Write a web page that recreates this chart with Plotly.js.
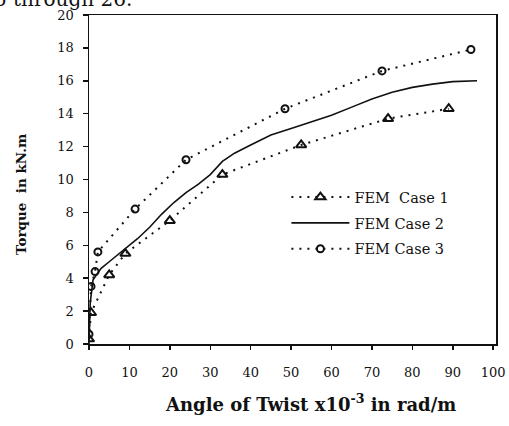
<!DOCTYPE html>
<html>
<head>
<meta charset="utf-8">
<script src="https://cdn.plot.ly/plotly-3.0.1.min.js"></script>
<style>
  html, body { margin: 0; padding: 0; background: #fff; }
  #chart { width: 509px; height: 426px; }
</style>
</head>
<body>
<div id="chart"></div>
<script>
// ---- Data ----
const case1X = [0, 0.5, 5, 9, 20, 33, 52.5, 74, 89];
const case1Y = [0.3, 1.9, 4.2, 5.5, 7.5, 10.3, 12.1, 13.7, 14.3];

const case2X = [0, 0.3, 1, 3, 5, 9, 12, 15, 18, 21, 24, 27, 30, 33, 36, 40, 45, 50, 55, 60, 65, 70, 75, 80, 85, 90, 96];
const case2Y = [0, 2.5, 3.9, 4.6, 5.0, 5.8, 6.4, 7.1, 7.9, 8.6, 9.2, 9.7, 10.3, 11.1, 11.6, 12.1, 12.7, 13.1, 13.5, 13.9, 14.4, 14.9, 15.3, 15.6, 15.8, 15.95, 16.0];

const case3X = [0, 0.5, 1.5, 2.2, 11.4, 24, 48.5, 72.5, 94.5];
const case3Y = [0.6, 3.5, 4.4, 5.6, 8.2, 11.2, 14.3, 16.6, 17.9];

const seriesNames = ["FEM  Case 1", "FEM Case 2", "FEM Case 3"];
const xTickVals = [0, 10, 20, 30, 40, 50, 60, 70, 80, 90, 100];
const yTickVals = [0, 2, 4, 6, 8, 10, 12, 14, 16, 18, 20];
const xTitle = "Angle of Twist x10<sup>-3</sup> in rad/m";
const yTitle = "Torque  in kN.m";
const clippedText = "5 through 26.";

const ink = "#111";
const serif = "DejaVu Serif, Liberation Serif, serif";

const traces = [
  {
    x: case1X, y: case1Y, name: seriesNames[0], legendgroup: "a",
    mode: "lines+markers",
    line: { color: ink, width: 2, dash: "2px,6px" },
    marker: { symbol: "triangle-up-open", size: 9, color: ink, line: { width: 2, color: ink } }
  },
  {
    x: case2X, y: case2Y, name: seriesNames[1], legendgroup: "b",
    mode: "lines", line: { color: ink, width: 1.6 }
  },
  {
    x: case3X, y: case3Y, name: seriesNames[2], legendgroup: "c",
    mode: "lines+markers",
    line: { color: ink, width: 2, dash: "2px,6px" },
    marker: { symbol: "circle-open", size: 7, color: ink, line: { width: 2, color: ink } }
  }
];

const layout = {
  width: 509, height: 426,
  margin: { l: 89, r: 13, t: 15, b: 82, pad: 0 },
  paper_bgcolor: "#fff", plot_bgcolor: "#fff",
  font: { family: serif, color: ink, size: 13 },
  showlegend: true,
  legend: {
    x: 0.485, y: 0.495, xanchor: "left", yanchor: "top",
    bgcolor: "rgba(0,0,0,0)", borderwidth: 0,
    font: { family: serif, size: 14.5, color: ink },
    itemwidth: 58, traceorder: "grouped", tracegroupgap: 4
  },
  xaxis: {
    range: [0, 100.7], tickvals: xTickVals, ticks: "outside", ticklen: 4, tickwidth: 1.5,
    tickcolor: ink, showgrid: false, zeroline: false,
    showline: true, linecolor: ink, linewidth: 1.5, mirror: true,
    ticklabelstandoff: 12, tickfont: { family: serif, size: 13 }
  },
  yaxis: {
    range: [0, 20], tickvals: yTickVals, ticks: "outside", ticklen: 5, tickwidth: 1.5,
    tickcolor: ink, showgrid: false, zeroline: false,
    showline: true, linecolor: ink, linewidth: 1.5, mirror: true,
    ticklabelstandoff: 6, tickfont: { family: serif, size: 13 }
  },
  annotations: [
    {
      text: "<b>" + xTitle + "</b>", xref: "paper", yref: "paper",
      x: (310 - 89) / 407, y: -(403 - 344) / 329, xanchor: "center", yanchor: "middle",
      showarrow: false, font: { family: serif, size: 18, color: ink }
    },
    {
      text: "<b>" + yTitle + "</b>", xref: "paper", yref: "paper",
      x: -(89 - 21) / 407, y: (344 - 195) / 329, xanchor: "center", yanchor: "middle",
      textangle: -90, showarrow: false, font: { family: serif, size: 13.5, color: ink }
    },
    {
      text: clippedText, xref: "paper", yref: "paper",
      x: -(89 + 8) / 407, y: (344 - 13) / 329, xanchor: "left", yanchor: "bottom",
      showarrow: false, font: { family: serif, size: 20, color: ink }
    }
  ]
};

Plotly.newPlot("chart", traces, layout, { staticPlot: true, displayModeBar: false });
</script>
</body>
</html>
